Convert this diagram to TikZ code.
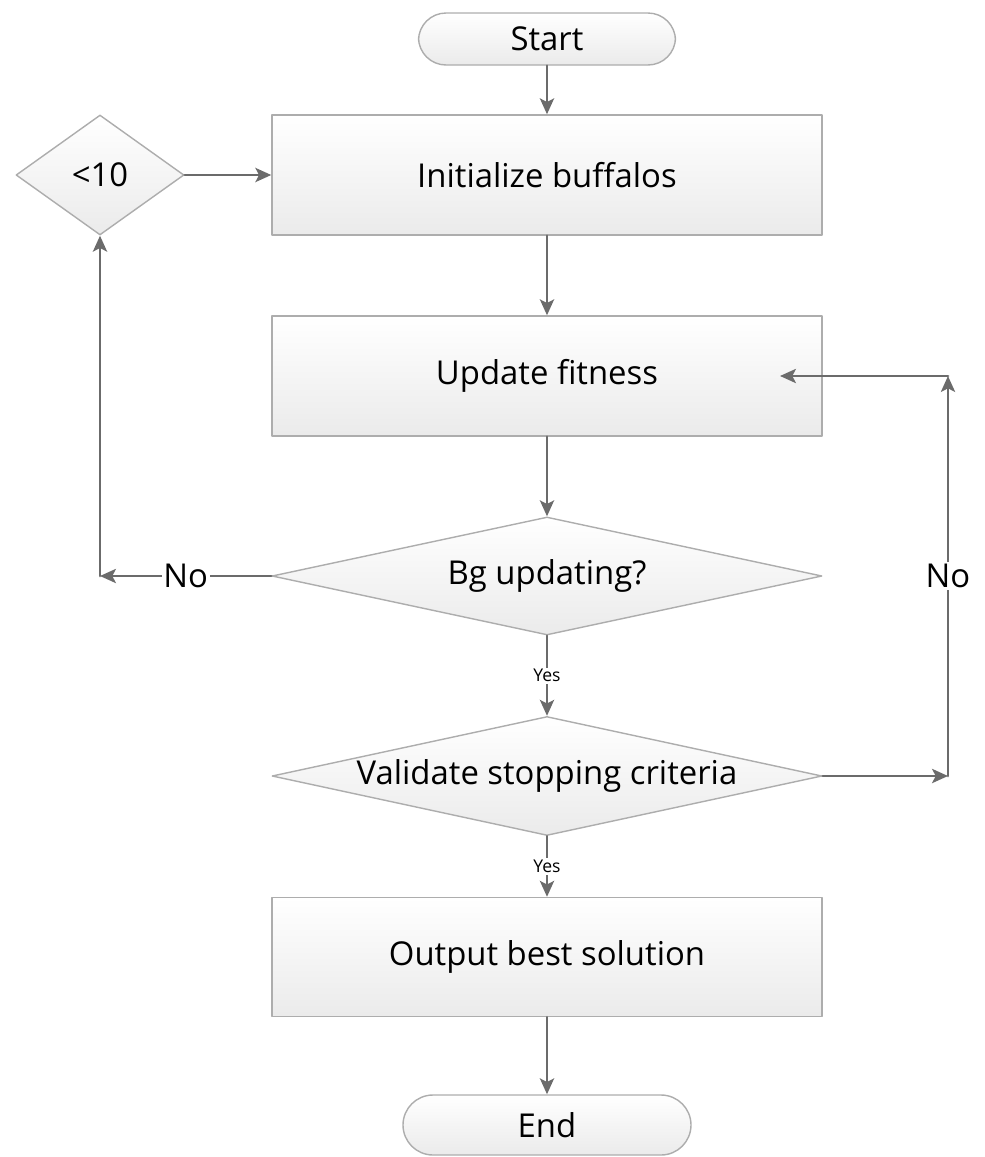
\documentclass[tikz,border=0pt]{standalone}
\usepackage{fontspec}
\setmainfont{Open Sans}
\usetikzlibrary{arrows.meta, shapes.geometric}

\begin{document}
\begin{tikzpicture}[>={Stealth[length=9pt, width=8pt, inset=2pt]},
    line cap=round, line join=round,
    box/.style={draw=black!32, line width=0.8pt, top color=white, bottom color=black!8,
      minimum width=11cm, minimum height=2.4cm, font=\fontsize{18.7}{21}\selectfont},
    pill/.style={box, rounded corners=0.55cm, minimum height=1.04cm},
    choice/.style={box, diamond, inner sep=0pt, aspect=4.6},
    flow/.style={->, draw=black!58, line width=1.6pt},
    tag/.style={fill=white, inner sep=1pt, font=\fontsize{18.7}{21}\selectfont},
    yes/.style={tag, font=\fontsize{10}{12}\selectfont}]

  %% ---- page frame ----
  \useasboundingbox (0,0) rectangle (19.7,-23.14);

  %% ---- main column ----
  \node[pill, minimum width=5.14cm] (start) at (10.94,-0.78) {Start};
  \node[box] (init)   at (10.94,-3.50)  {Initialize buffalos};
  \node[box] (update) at (10.94,-7.52)  {Update fitness};
  \node[choice, minimum width=11cm, minimum height=2.36cm] (bg)
    at (10.94,-11.52) {Bg updating?};
  \node[choice, minimum width=11cm, minimum height=2.38cm] (valid)
    at (10.94,-15.52) {Validate stopping criteria};
  \node[box, minimum height=2.38cm] (out) at (10.94,-19.14) {Output best solution};
  \node[pill, minimum width=5.76cm, minimum height=1.2cm, rounded corners=0.6cm] (end)
    at (10.94,-22.50) {End};

  %% ---- restart check ----
  \node[choice, minimum width=3.36cm, minimum height=2.4cm] (lt) at (2.0,-3.50) {<10};

  %% ---- bends of the loops ----
  \coordinate (noL)  at (2.0,-11.52);
  \coordinate (noR)  at (18.96,-15.52);
  \coordinate (upR)  at (18.96,-7.52);
  \coordinate (tipU) at (15.6,-7.52);

  %% ---- straight flow ----
  \draw[flow] (start) -- (init);
  \draw[flow] (lt.east) -- (init.west);
  \draw[flow] (init) -- (update);
  \draw[flow] (update) -- (bg);
  \draw[flow] (bg) -- node[yes] {Yes} (valid);
  \draw[flow] (valid) -- node[yes] {Yes} (out);
  \draw[flow] (out) -- (end);

  %% ---- left loop: no update of Bg ----
  \draw[flow] (bg.west) -- node[tag] {No} (noL);
  \draw[flow] (noL) -- (lt.south);

  %% ---- right loop: criteria not met ----
  \draw[flow] (valid.east) -- (noR);
  \draw[flow] (noR) -- node[tag] {No} (upR);
  \draw[flow] (upR) -- (tipU);

\end{tikzpicture}
\end{document}
